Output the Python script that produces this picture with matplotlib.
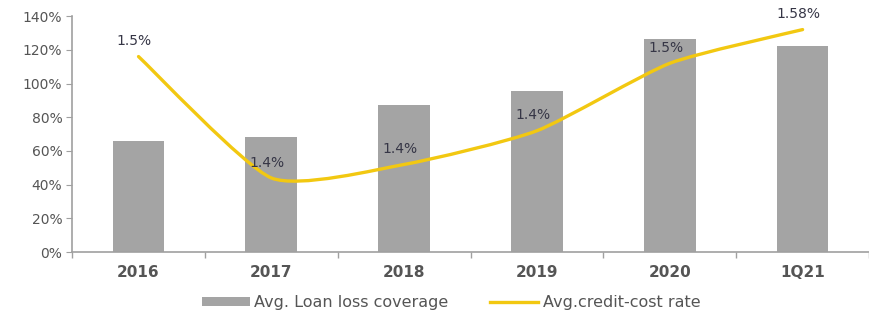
import numpy as np
import matplotlib
matplotlib.use("Agg")
import matplotlib.pyplot as plt
from matplotlib.path import Path
from matplotlib.patches import PathPatch
from matplotlib.lines import Line2D
from matplotlib.ticker import FuncFormatter, FixedLocator

# Data
periods = ["2016", "2017", "2018", "2019", "2020", "1Q21"]
loan_loss_coverage = [66, 68, 87, 95.5, 126.5, 122.5]      # %
credit_cost_rate = [1.54, 1.36, 1.38, 1.43, 1.53, 1.58]    # %
rate_labels = ["1.5%", "1.4%", "1.4%", "1.4%", "1.5%", "1.58%"]

BAR_COLOR = "#a4a4a4"
LINE_COLOR = "#f2c811"
TEXT_COLOR = "#555555"
LABEL_COLOR = "#363646"
AXIS_COLOR = "#a0a0a0"

fig = plt.figure(figsize=(8.69, 3.22), dpi=100)
ax = fig.add_axes([0.083, 0.217, 0.917, 0.733])
x = np.arange(len(periods))

bars = ax.bar(x, loan_loss_coverage, width=0.39, color=BAR_COLOR, zorder=2,
              label="Avg. Loan loss coverage")

ax.set_xlim(-0.5, len(periods) - 0.5)
ax.set_ylim(0, 140)
ax.yaxis.set_major_locator(FixedLocator(np.arange(0, 141, 20)))
ax.yaxis.set_major_formatter(FuncFormatter(lambda v, _: f"{v:.0f}%"))
ax.set_xticks(x)
ax.set_xticklabels(periods, fontsize=11, fontweight="bold", color=TEXT_COLOR)
ax.set_xticks(np.arange(-0.5, len(periods)), minor=True)
ax.tick_params(axis="x", which="major", length=0, pad=9)
ax.tick_params(axis="x", which="minor", length=4, color=AXIS_COLOR, width=1)
ax.tick_params(axis="y", length=4, color=AXIS_COLOR, labelsize=10,
               labelcolor=TEXT_COLOR, pad=3)
for side in ("top", "right"):
    ax.spines[side].set_visible(False)
for side in ("left", "bottom"):
    ax.spines[side].set_color(AXIS_COLOR)
    ax.spines[side].set_linewidth(1.2)

# Credit-cost rate on a hidden secondary scale
ax2 = ax.twinx()
ax2.set_ylim(1.25, 1.60)
ax2.axis("off")

# Smoothed curve through the rate points (low-tension cubic Bezier segments)
pts = np.column_stack([x, credit_cost_rate]).astype(float)
verts = [tuple(pts[0])]
codes = [Path.MOVETO]
n = len(pts)
k = 1.0 / 10.0
for i in range(n - 1):
    p0 = pts[i - 1] if i > 0 else pts[i]
    p1, p2 = pts[i], pts[i + 1]
    p3 = pts[i + 2] if i + 2 < n else pts[i + 1]
    c1 = p1 + (p2 - p0) * k
    c2 = p2 - (p3 - p1) * k
    verts += [tuple(c1), tuple(c2), tuple(p2)]
    codes += [Path.CURVE4] * 3
curve = PathPatch(Path(verts, codes), facecolor="none", edgecolor=LINE_COLOR,
                  linewidth=2.4, capstyle="round", joinstyle="round", zorder=3)
ax2.add_patch(curve)

for xi, yi, lab in zip(x, credit_cost_rate, rate_labels):
    ax2.annotate(lab, (xi, yi), xytext=(-3, 6), textcoords="offset points",
                 ha="center", va="bottom", fontsize=10, color=LABEL_COLOR,
                 zorder=4)

handles = [bars, Line2D([], [], color=LINE_COLOR, linewidth=2.4)]
labels = ["Avg. Loan loss coverage", "Avg.credit-cost rate"]
fig.legend(handles, labels, loc="center", bbox_to_anchor=(0.519, 0.06), ncol=2,
           frameon=False, fontsize=11.5, handlelength=3.0, handleheight=0.45,
           handletextpad=0.3, columnspacing=2.6, labelcolor=TEXT_COLOR)

fig.savefig("out.png", dpi=100)
